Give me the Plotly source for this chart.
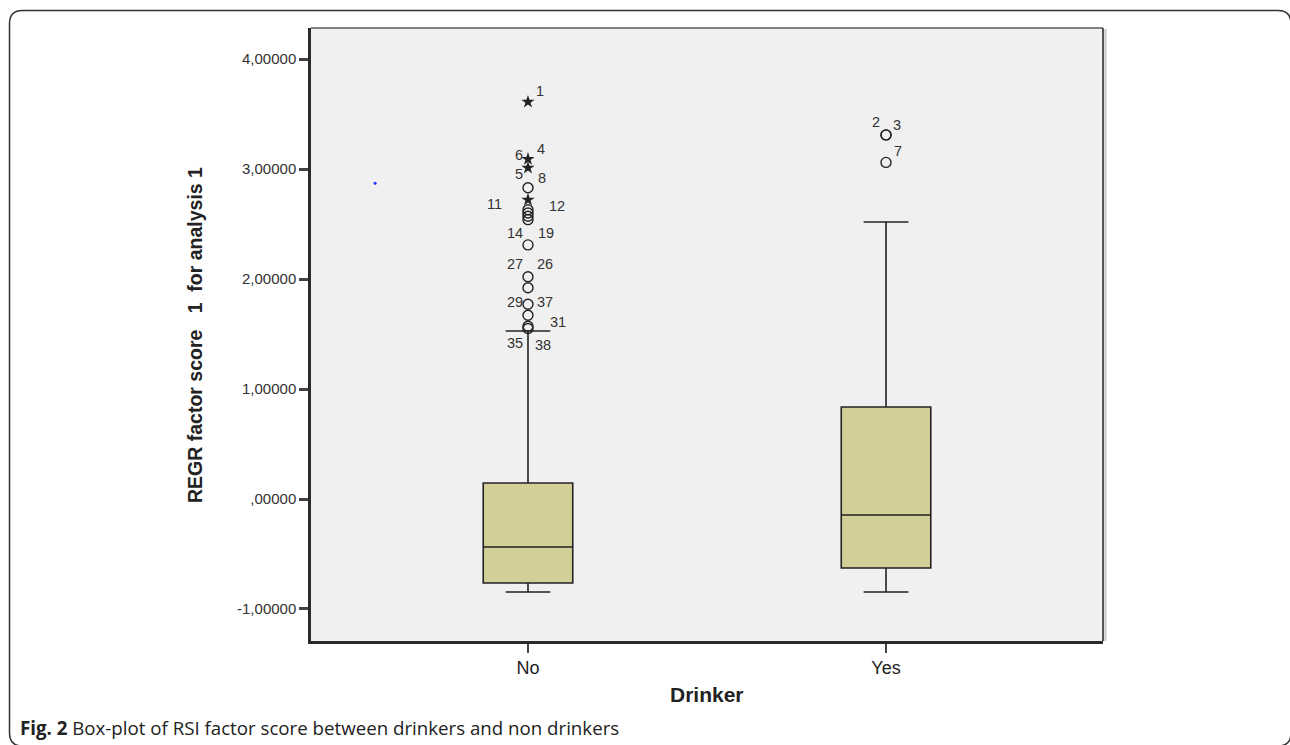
import plotly.graph_objects as go

# ---------------- data ----------------
categories = ["No", "Yes"]
cat_pos = [0, 1]
q1 = [-0.764, -0.627]
median = [-0.436, -0.145]
q3 = [0.145, 0.836]
lower_whisker = [-0.845, -0.845]
upper_whisker = [1.527, 2.518]

# outliers (circles) and extremes (stars)
no_circles = [2.83, 2.63, 2.60, 2.57, 2.54, 2.31, 2.02, 1.92, 1.77, 1.67, 1.57, 1.55]
no_stars = [3.61, 3.09, 3.01, 2.72]
yes_circles = [3.31, 3.31, 3.06]

# case labels: (group index, value of point, label, dx px, dy px)
case_labels = [
    (0, 3.61, "1", 12, 11),
    (0, 3.09, "6", -9, 4), (0, 3.09, "4", 13, 10),
    (0, 3.01, "5", -9, -6), (0, 3.01, "8", 14, -10),
    (0, 2.72, "11", -33, -4), (0, 2.72, "12", 29, -6),
    (0, 2.31, "14", -13, 12), (0, 2.31, "19", 18, 12),
    (0, 2.02, "27", -13, 13), (0, 2.02, "26", 17, 13),
    (0, 1.77, "29", -13, 2), (0, 1.77, "37", 17, 2),
    (0, 1.57, "31", 30, 4),
    (0, 1.55, "35", -13, -14), (0, 1.55, "38", 15, -16),
    (1, 3.31, "2", -10, 13), (1, 3.31, "3", 11, 10),
    (1, 3.06, "7", 12, 11),
]

stray_point = ([-0.427], [2.87])

y_tickvals = [-1, 0, 1, 2, 3, 4]
y_ticktext = ["-1,00000", ",00000", "1,00000", "2,00000", "3,00000", "4,00000"]

# ---------------- layout geometry ----------------
W, H = 1290, 745
ML, MR, MT, MB = 311, 187, 28, 104
PW, PH = W - ML - MR, H - MT - MB

def px(x):
    return (x - ML) / PW

def py(y):
    return (H - MB - y) / PH

FONT = "Liberation Sans, Arial"

fig = go.Figure()

fig.add_trace(go.Box(
    x=cat_pos, q1=q1, median=median, q3=q3,
    lowerfence=lower_whisker, upperfence=upper_whisker,
    width=0.25, whiskerwidth=0.5,
    fillcolor="#d3cf98", line=dict(color="#222222", width=1.6),
    boxpoints=False, hoverinfo="skip", showlegend=False,
))

fig.add_trace(go.Scatter(
    x=[0] * len(no_circles) + [1] * len(yes_circles),
    y=no_circles + yes_circles, mode="markers",
    marker=dict(symbol="circle-open", size=10, color="#222222", line=dict(width=1.4)),
    showlegend=False, hoverinfo="skip",
))
fig.add_trace(go.Scatter(
    x=[0] * len(no_stars), y=no_stars, mode="markers",
    marker=dict(symbol="star", size=10, color="#222222"),
    showlegend=False, hoverinfo="skip",
))
fig.add_trace(go.Scatter(
    x=stray_point[0], y=stray_point[1], mode="markers",
    marker=dict(symbol="circle", size=3, color="#2233ff"),
    showlegend=False, hoverinfo="skip",
))

for g, v, t, dx, dy in case_labels:
    fig.add_annotation(x=cat_pos[g], y=v, text=t, showarrow=False,
                       xshift=dx, yshift=dy,
                       font=dict(family=FONT, size=14.5, color="#333333"))

# axis titles and caption
fig.add_annotation(xref="paper", yref="paper", x=px(195), y=py(335),
                   xanchor="center", yanchor="middle",
                   text="<b>REGR factor score&nbsp;&nbsp; 1&nbsp;&nbsp;for analysis 1</b>", textangle=-90,
                   showarrow=False, font=dict(family=FONT, size=19.5, color="#222222"))
fig.add_annotation(xref="paper", yref="paper", x=px(707), y=py(694),
                   xanchor="center", yanchor="middle",
                   text="<b>Drinker</b>", showarrow=False,
                   font=dict(family=FONT, size=21, color="#222222"))
fig.add_annotation(xref="paper", yref="paper", x=px(18), y=py(727), xanchor="left", yanchor="middle",
                   text="<b>Fig. 2</b> Box-plot of RSI factor score between drinkers and non drinkers",
                   showarrow=False, font=dict(family="Open Sans", size=18.7, color="#222222"))

# frame around the whole figure (rounded corners)
L, T, R, B, r = 9.5, 10.5, 1291.0, 746.0, 13
def P(x, y):
    return f"{px(x):.5f},{py(y):.5f}"
frame_path = (f"M {P(L, B - r)} L {P(L, T + r)} Q {P(L, T)} {P(L + r, T)} "
              f"L {P(R - r, T)} Q {P(R, T)} {P(R, T + r)} L {P(R, B - r)} "
              f"Q {P(R, B)} {P(R - r, B)} L {P(L + r, B)} Q {P(L, B)} {P(L, B - r)} Z")
shapes = [
    dict(type="path", xref="paper", yref="paper", path=frame_path,
         line=dict(color="#333333", width=1.5), layer="above"),
    # top and right plot borders
    dict(type="line", xref="paper", yref="paper", x0=0, x1=1, y0=1, y1=1,
         line=dict(color="#808080", width=2)),
    dict(type="line", xref="paper", yref="paper", x0=1, x1=1, y0=0, y1=1,
         line=dict(color="#555555", width=2)),
    dict(type="line", xref="paper", yref="paper", x0=px(1105.5), x1=px(1105.5), y0=0, y1=py(29),
         line=dict(color="#c4c4c4", width=2)),
]

fig.update_layout(
    width=W, height=H,
    margin=dict(l=ML, r=MR, t=MT, b=MB),
    paper_bgcolor="white", plot_bgcolor="#f0f0f0",
    shapes=shapes,
    xaxis=dict(range=[-0.6061, 1.6061], tickvals=cat_pos, ticktext=categories,
               showgrid=False, zeroline=False, showline=True, linecolor="#2a2a2a", linewidth=2.5,
               ticks="outside", ticklen=9, tickwidth=1.5, tickcolor="#444444",
               tickfont=dict(family=FONT, size=18, color="#222222")),
    yaxis=dict(range=[-1.291, 4.282], tickvals=y_tickvals, ticktext=y_ticktext,
               showgrid=False, zeroline=False, showline=True, linecolor="#2a2a2a", linewidth=2.5,
               ticks="outside", ticklen=9, tickwidth=2.5, tickcolor="#444444",
               tickfont=dict(family=FONT, size=15, color="#333333")),
)

fig.write_html("out.html", config={"displayModeBar": False},
               post_script="document.body.style.margin='0';")
